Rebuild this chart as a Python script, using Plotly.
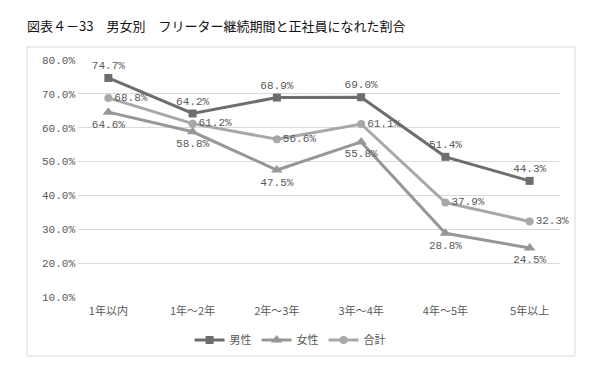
import plotly.graph_objects as go

categories = ["1年以内", "1年～2年", "2年～3年", "3年～4年", "4年～5年", "5年以上"]
male = [74.7, 64.2, 68.9, 69.0, 51.4, 44.3]
female = [64.6, 58.8, 47.5, 55.8, 28.8, 24.5]
total = [68.8, 61.2, 56.6, 61.1, 37.9, 32.3]
series_names = ["男性", "女性", "合計"]
title_text = "図表４－33　男女別　フリーター継続期間と正社員になれた割合"

NUM_FONT = "Liberation Mono, Noto Sans CJK JP, monospace"
JP_FONT = "Noto Sans CJK JP, sans-serif"

fig = go.Figure()
specs = [
    (male, series_names[0], "#6e6e6e", "square", "top center", 8),
    (female, series_names[1], "#979797", "triangle-up", "bottom center", 10),
    (total, series_names[2], "#a8a8a8", "circle", "middle right", 8),
]
for vals, name, color, sym, pos, ms in specs:
    fig.add_trace(go.Scatter(
        x=categories, y=vals, name=name, mode="lines+markers+text",
        line=dict(color=color, width=3),
        marker=dict(symbol=sym, size=ms, color=color),
        text=[f"{v:.1f}%" for v in vals], textposition=pos,
        textfont=dict(family=NUM_FONT, size=11, color="#595959"),
        cliponaxis=False,
    ))

L, T, PW, PH = 70, 52, 482, 237
B = T + PH
fig.update_layout(
    width=602, height=380,
    margin=dict(l=L, r=602 - L - PW, t=T, b=380 - B),
    paper_bgcolor="white", plot_bgcolor="white",
    title=dict(text=title_text, x=19/602, xanchor="left", xref="container",
               y=1-18/380, yanchor="middle", yref="container",
               font=dict(family=JP_FONT, size=13, color="#111111")),
    showlegend=True,
    legend=dict(orientation="h", x=0.44, xanchor="center", y=(B-332)/PH, yanchor="middle",
                font=dict(family=JP_FONT, size=11, color="#595959"),
                itemwidth=30, tracegroupgap=0),
    font=dict(family=JP_FONT, color="#595959"),
)
fig.update_xaxes(showgrid=False, showline=False, ticks="", zeroline=False,
                 ticklabelstandoff=6,
                 tickfont=dict(family=JP_FONT, size=11, color="#595959"))
fig.update_yaxes(range=[10, 80], dtick=10, tickformat=".1f", ticksuffix="%",
                 showgrid=True, gridcolor="#d9d9d9", gridwidth=1, zeroline=False,
                 showline=False, ticks="", ticklabelstandoff=2,
                 tickfont=dict(family=NUM_FONT, size=11, color="#595959"))

fig.add_shape(type="rect", xref="paper", yref="paper",
              x0=(19-L)/PW, x1=(567-L)/PW, y0=(B-348)/PH, y1=(B-39)/PH,
              line=dict(color="#d9d9d9", width=1), fillcolor="rgba(0,0,0,0)", layer="below")

fig.write_html("out.html")
